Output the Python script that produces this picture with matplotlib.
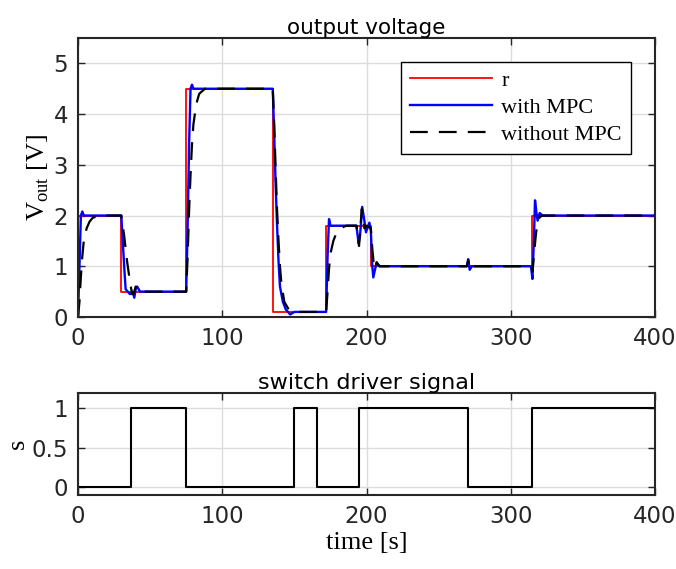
import numpy as np
import matplotlib.pyplot as plt

plt.rcParams['font.family'] = 'DejaVu Sans'
plt.rcParams['mathtext.fontset'] = 'custom'
plt.rcParams['mathtext.rm'] = 'Liberation Serif'

# reference r(t): step times and levels
r_t = [0, 30, 30, 75, 75, 135, 135, 172, 172, 203, 203, 315, 315, 400]
r_v = [2.0, 2.0, 0.5, 0.5, 4.5, 4.5, 0.1, 0.1, 1.8, 1.8, 1.0, 1.0, 2.0, 2.0]

# output with MPC
mpc_t = [0, 1, 2, 3, 4, 30, 31, 32, 33, 36, 38, 39, 40, 41, 43, 75, 76, 77, 78, 79, 80, 82,
         135, 136, 137, 138, 139, 140, 142, 144, 147, 150, 172, 173, 174, 175, 177, 193,
         194.5, 195.5, 197, 198.5, 199.6, 202, 203, 204, 204.7, 206, 207, 209, 269.5,
         270.5, 271.5, 273, 314, 315, 316, 316.8, 317.8, 318.6, 320, 322, 400]
mpc_v = [0.0, 1.0, 2.0, 2.08, 2.0, 2.0, 1.5, 1.0, 0.55, 0.45, 0.5, 0.38, 0.55, 0.6, 0.5, 0.5,
         1.8, 3.4, 4.5, 4.58, 4.5, 4.5, 4.5, 3.6, 2.6, 1.8, 1.1, 0.6, 0.3, 0.15, 0.05, 0.1,
         0.1, 1.2, 1.93, 1.8, 1.8, 1.8, 1.45, 1.6, 2.17, 1.9, 1.67, 1.86, 1.7, 1.0, 0.78,
         0.95, 1.07, 1.0, 1.0, 1.14, 0.93, 1.0, 1.0, 0.75, 1.5, 2.3, 2.05, 1.9, 2.05, 2.0, 2.0]

# output without MPC
nom_t = [0, 1, 2, 3, 4, 6, 8, 10, 14, 30, 32, 34, 36, 37.5, 38.5, 40, 42, 75, 76, 77, 78,
         79, 80, 82, 84, 88, 135, 136, 137, 138, 139, 140, 141, 143, 146, 150, 172, 173,
         174, 175, 177, 179, 182, 186, 193, 194.8, 196.7, 198.5, 200, 203, 204, 205, 206,
         207, 209, 269.5, 270.5, 271.5, 273, 314, 315, 316.3, 317.5, 318.4, 320, 322, 400]
nom_v = [0.0, 0.3, 0.8, 1.2, 1.5, 1.75, 1.88, 1.95, 2.0, 2.0, 1.6, 1.1, 0.7, 0.45, 0.45,
         0.6, 0.5, 0.5, 1.2, 2.1, 2.8, 3.4, 3.8, 4.2, 4.4, 4.5, 4.5, 3.8, 2.9, 2.1, 1.5,
         1.0, 0.65, 0.3, 0.15, 0.1, 0.1, 0.5, 0.95, 1.25, 1.5, 1.65, 1.75, 1.8, 1.8, 1.4,
         2.13, 1.75, 1.8, 1.75, 1.35, 1.05, 0.95, 1.08, 1.0, 1.0, 1.12, 0.95, 1.0, 1.0,
         0.9, 1.3, 1.65, 1.84, 1.97, 2.0, 2.0]

# switch driver signal
s_t = [0, 37, 37, 75, 75, 150, 150, 166, 166, 195, 195, 270, 270, 315, 315, 400]
s_v = [0, 0, 1, 1, 0, 0, 1, 1, 0, 0, 1, 1, 0, 0, 1, 1]

fig = plt.figure(figsize=(6.76, 5.69), dpi=100)
ax1 = fig.add_axes([0.1154, 0.4429, 0.8536, 0.4903])
ax2 = fig.add_axes([0.1154, 0.130, 0.8536, 0.1798])

serif = 'Liberation Serif'
spine_c = '#262626'

ax1.plot(r_t, r_v, color='red', lw=1.3, label='r')
ax1.plot(mpc_t, mpc_v, color='blue', lw=1.7, label='with MPC')
ax1.plot(nom_t, nom_v, color='black', lw=1.6, dashes=(8, 5), label='without MPC')
ax1.set_xlim(0, 400)
ax1.set_ylim(0, 5.5)
ax1.set_xticks([0, 100, 200, 300, 400])
ax1.set_yticks([0, 1, 2, 3, 4, 5])
ax1.set_title('output voltage', fontsize=15.5, pad=3)
ax1.set_ylabel(r'V$_{\rm out}$ [V]', fontfamily=serif, fontsize=19, labelpad=2)
leg = ax1.legend(loc='upper right', bbox_to_anchor=(0.958, 0.915), fancybox=False,
                 edgecolor='black', framealpha=1, handlelength=3.7, borderaxespad=0,
                 prop={'family': serif, 'size': 16}, labelspacing=0.28, borderpad=0.4,
                 handletextpad=0.4)
leg.get_frame().set_linewidth(1.0)

ax2.plot(s_t, s_v, color='black', lw=1.5)
ax2.set_xlim(0, 400)
ax2.set_ylim(-0.1, 1.2)
ax2.set_xticks([0, 100, 200, 300, 400])
ax2.set_yticks([0, 0.5, 1])
ax2.set_yticklabels(['0', '0.5', '1'])
ax2.set_title('switch driver signal', fontsize=16, pad=3)
ax2.set_ylabel('s', fontfamily=serif, fontsize=19, labelpad=2)
ax2.set_xlabel('time [s]', fontfamily=serif, fontsize=19, labelpad=3)

for ax in (ax1, ax2):
    ax.grid(True, color='#dcdcdc', lw=1.0)
    ax.set_axisbelow(True)
    ax.tick_params(direction='in', top=True, right=True, labelsize=16.5, length=5,
                   width=1.0, colors=spine_c, pad=7)
    for sp in ax.spines.values():
        sp.set_linewidth(1.5)
        sp.set_color(spine_c)

fig.savefig('out.png', dpi=100)
